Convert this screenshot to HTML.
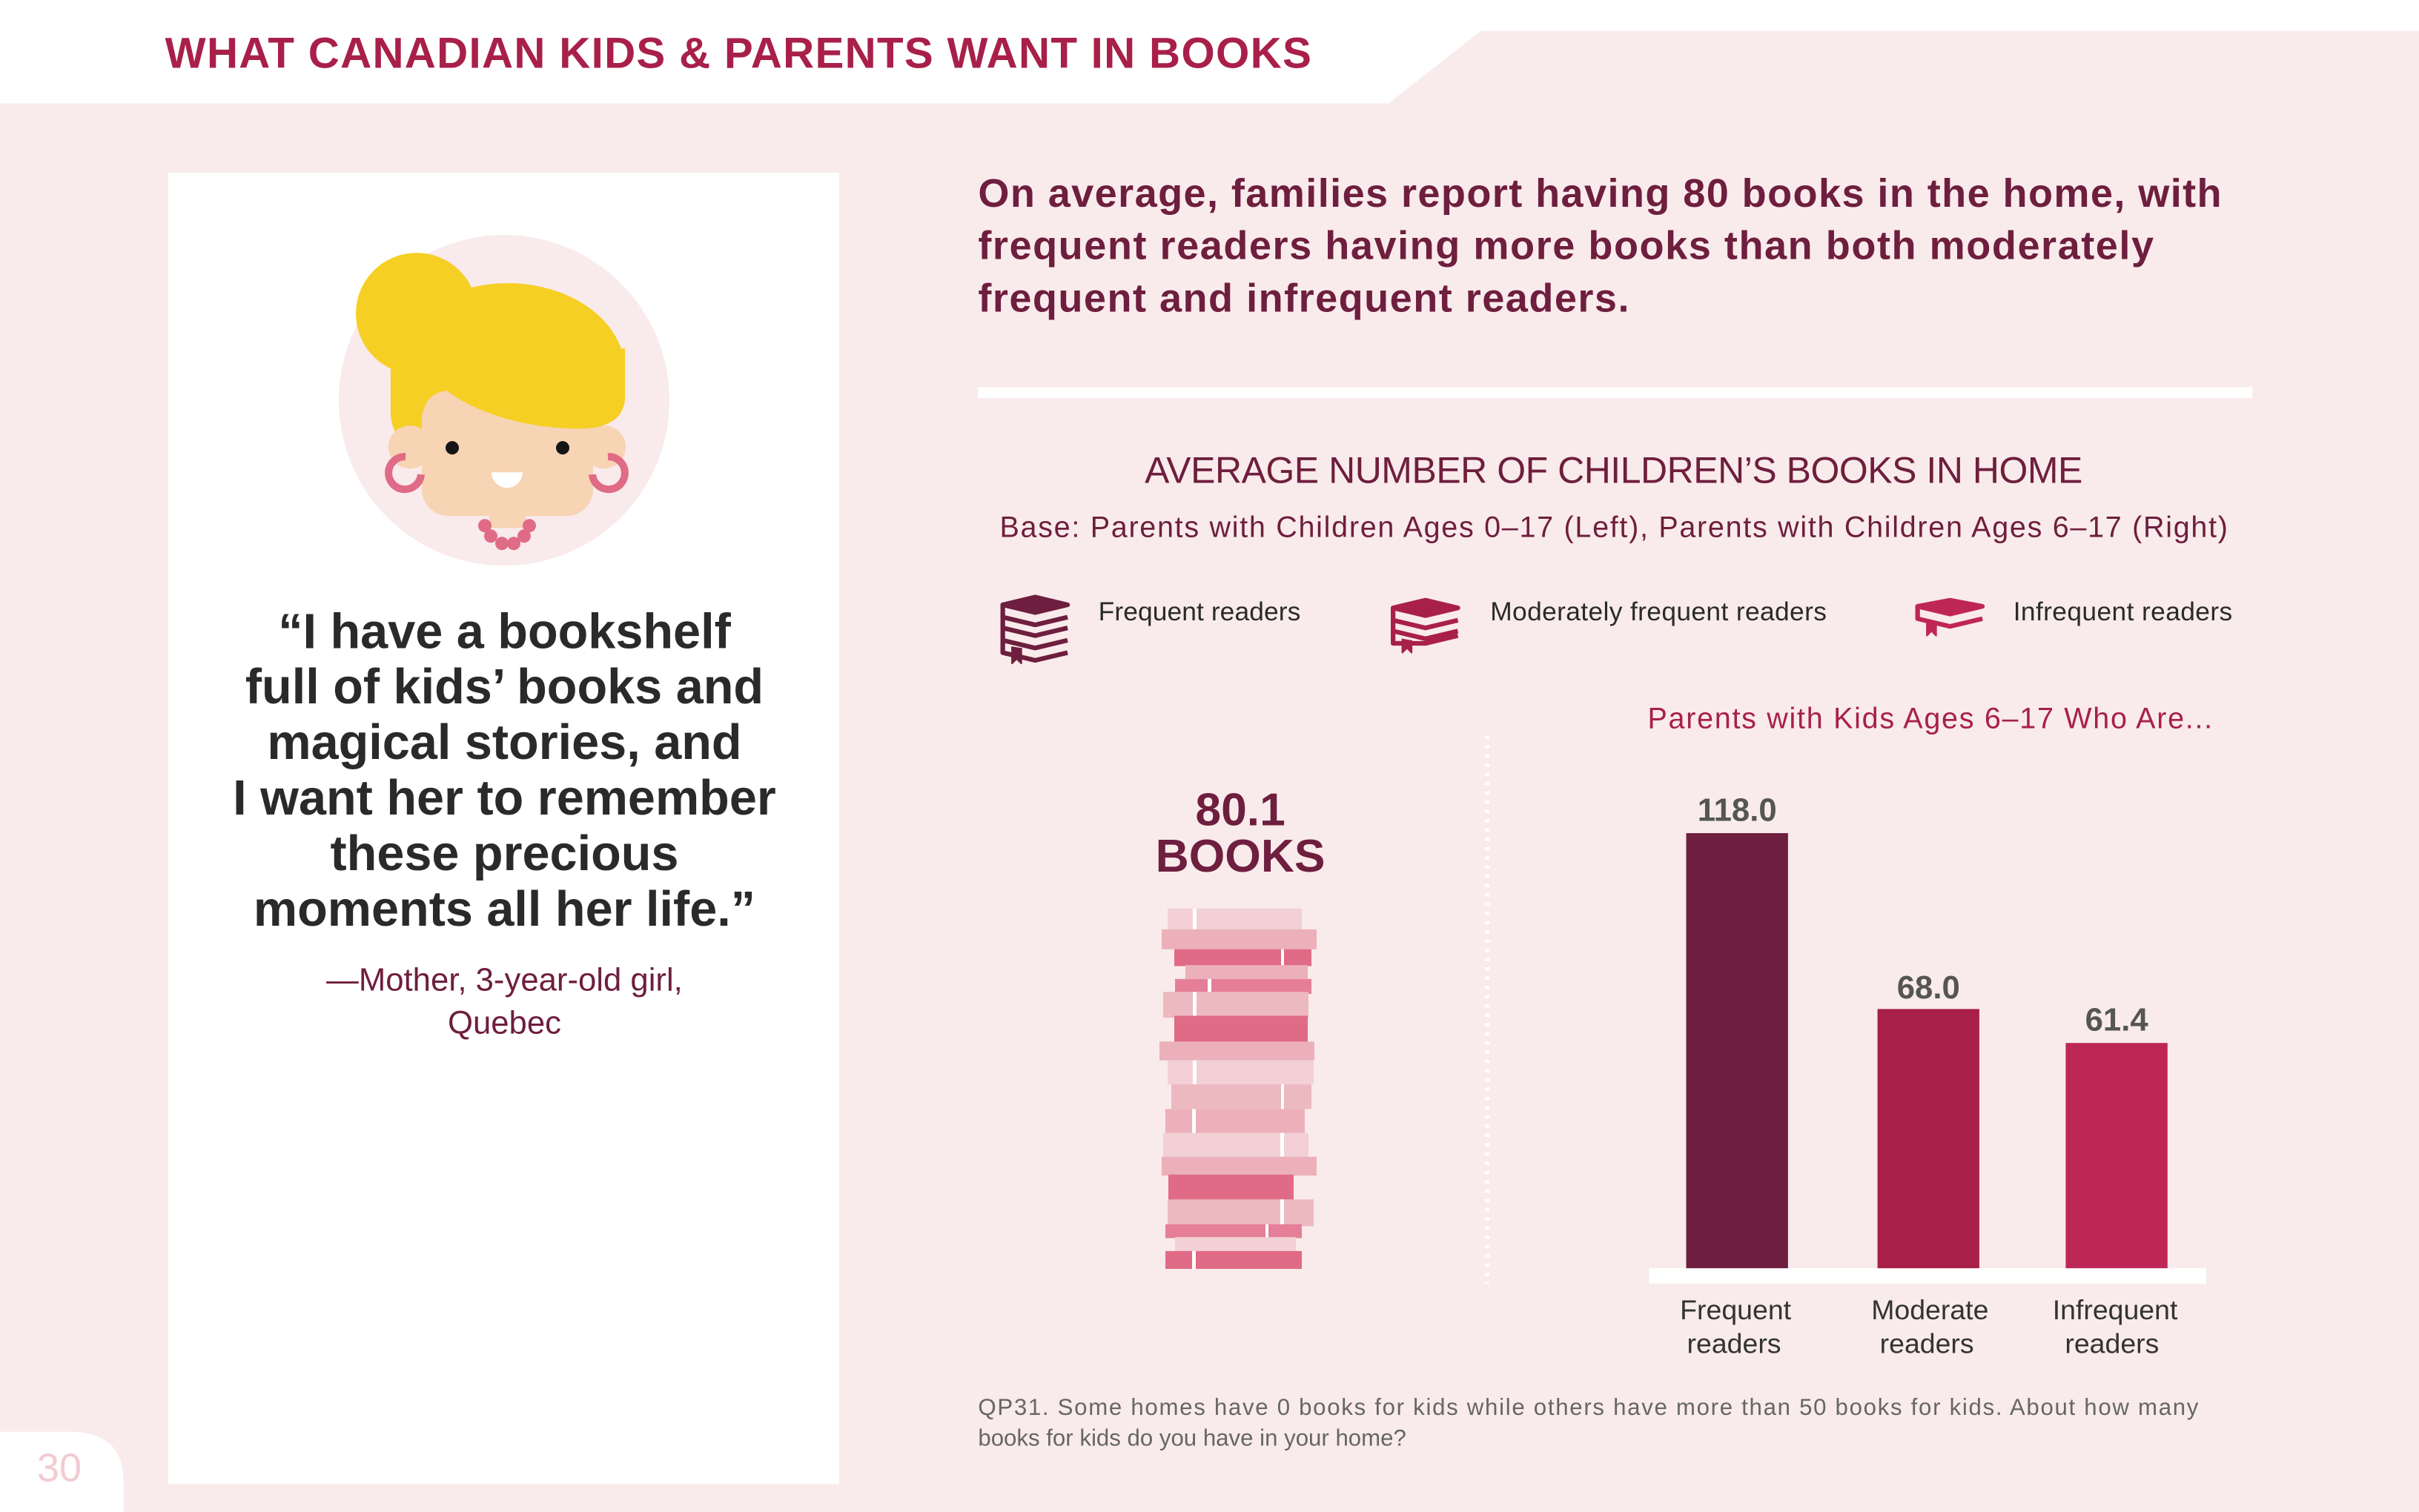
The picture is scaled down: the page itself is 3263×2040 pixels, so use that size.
<!DOCTYPE html>
<html><head><meta charset="utf-8"><style>
html,body{margin:0;padding:0;background:#f9ebeb;}
svg{display:block;}
text{font-family:"Liberation Sans",sans-serif;}
</style></head><body>
<svg width="3263" height="2040" viewBox="0 0 1568 980" preserveAspectRatio="none" xmlns="http://www.w3.org/2000/svg">
<rect width="1568" height="980" fill="#f9ebeb"/>
<polygon points="0,0 1568,0 1568,20 960,20 900,67 0,67" fill="#fff"/>
<text x="107" y="44" font-size="28" font-weight="bold" fill="#a8204a" textLength="743">WHAT CANADIAN KIDS &amp; PARENTS WANT IN BOOKS</text>
<rect x="109" y="112" width="435" height="850" fill="#fff"/>
<path d="M0 928 L45 928 Q80 928 80 960 L80 980 L0 980 Z" fill="#fff"/>
<text x="24" y="960" font-size="26" fill="#f3cbd2">30</text>
<g transform="scale(0.48054)">
<circle cx="680" cy="540" r="223" fill="#f9eaec"/>
<circle cx="562" cy="423" r="82" fill="#f6cf24"/>
<ellipse cx="685" cy="500" rx="158" ry="118" fill="#f6cf24"/>
<path d="M527 500 L527 560 C530 590 545 600 560 600 L620 600 L620 500 Z" fill="#f6cf24"/>
<circle cx="553" cy="603" r="29" fill="#f7d4b4"/>
<circle cx="815" cy="603" r="29" fill="#f7d4b4"/>
<rect x="569" y="527" width="231" height="169" rx="36" fill="#f7d4b4"/>
<rect x="660" y="690" width="49" height="22" fill="#f7d4b4"/>
<path d="M594 520 C640 560 720 580 790 578 C820 576 840 565 843 540 L843 470 L594 470 Z" fill="#f6cf24"/>
<path d="M569 560 C575 540 585 525 594 519 L594 480 L569 480 Z" fill="#f6cf24"/>
<circle cx="610" cy="604" r="9" fill="#151515"/>
<circle cx="759" cy="604" r="9" fill="#151515"/>
<path d="M663 637 L705 637 A21 21 0 0 1 663 637 Z" fill="#fff"/>
<path d="M547 616 A22 22 0 1 0 568 640" fill="none" stroke="#e06b86" stroke-width="10"/>
<path d="M820 616 A22 22 0 1 1 799 640" fill="none" stroke="#e06b86" stroke-width="10"/>
<g fill="#e06b86"><circle cx="654" cy="709" r="9"/><circle cx="662" cy="723" r="9"/><circle cx="677" cy="733" r="9"/><circle cx="693" cy="733" r="9"/><circle cx="707" cy="723" r="9"/><circle cx="714" cy="709" r="9"/></g>
</g>
<g font-size="32" font-weight="bold" fill="#2a2a2a" text-anchor="middle">
<text x="327" y="420">“I have a bookshelf</text>
<text x="327" y="456">full of kids’ books and</text>
<text x="327" y="492">magical stories, and</text>
<text x="327" y="528">I want her to remember</text>
<text x="327" y="564">these precious</text>
<text x="327" y="600">moments all her life.”</text>
</g>
<g font-size="21" fill="#6e1e3e" text-anchor="middle">
<text x="327" y="642">—Mother, 3-year-old girl,</text>
<text x="327" y="670">Quebec</text>
</g>
<g font-size="26" font-weight="bold" fill="#6e1e3e">
<text x="634" y="134" textLength="806">On average, families report having 80 books in the home, with</text>
<text x="634" y="168" textLength="762">frequent readers having more books than both moderately</text>
<text x="634" y="202" textLength="422">frequent and infrequent readers.</text>
</g>
<rect x="634" y="251" width="826" height="7" fill="#fff"/>
<text x="1046" y="313" font-size="24" fill="#6e1e3e" text-anchor="middle" textLength="608">AVERAGE NUMBER OF CHILDREN’S BOOKS IN HOME</text>
<text x="1046" y="348" font-size="19" fill="#6e1e3e" text-anchor="middle" textLength="796">Base: Parents with Children Ages 0–17 (Left), Parents with Children Ages 6–17 (Right)</text>
<g fill="none" stroke-width="3" stroke-linejoin="round">
<g stroke="#6e1e3e">
<path d="M650 392 L671 387 L692 392 L671 397 Z" fill="#6e1e3e"/>
<path d="M650 392 L650 400 L671 405 L692 400 M650 400 L650 407 L671 412 L692 407 M650 407 L650 415 L671 420 L692 415 M650 415 L650 423 L671 428 L692 423"/>
<path d="M656 419 L656 430 L659 427 L662 430 L662 420" fill="#6e1e3e" stroke-width="1"/>
</g>
<g stroke="#a8204a">
<path d="M903 394 L924 389 L945 394 L924 399 Z" fill="#a8204a"/>
<path d="M903 394 L903 402 L924 407 L945 402 M903 402 L903 409 L924 414 L945 409 M903 409 L903 417 L924 417 L945 412"/>
<path d="M909 414 L909 423 L912 420 L915 423 L915 415" fill="#a8204a" stroke-width="1"/>
</g>
<g stroke="#bf2658">
<path d="M1243 393 L1264 389 L1285 393 L1264 398 Z" fill="#bf2658"/>
<path d="M1243 393 L1243 401 L1264 406 L1285 401"/>
<path d="M1249 402 L1249 412 L1252 409 L1255 412 L1255 403" fill="#bf2658" stroke-width="1"/>
</g>
</g>
<g font-size="17" fill="#2a2a2a">
<text x="712" y="402" textLength="131">Frequent readers</text>
<text x="966" y="402" textLength="218">Moderately frequent readers</text>
<text x="1305" y="402" textLength="142">Infrequent readers</text>
</g>
<text x="1251" y="472" font-size="19" fill="#a8204a" text-anchor="middle" textLength="366">Parents with Kids Ages 6–17 Who Are...</text>
<line x1="964" y1="477" x2="964" y2="832" stroke="#fff" stroke-width="3" stroke-dasharray="2,4"/>
<g font-size="30" font-weight="bold" fill="#6e1e3e" text-anchor="middle">
<text x="804" y="535">80.1</text>
<text x="804" y="565">BOOKS</text>
</g>
<g transform="scale(0.48054) translate(0,1050) scale(1,1.339) translate(0,-1050)">
<rect x="1575" y="1181" width="181" height="21" fill="#f2d0d5"/><rect x="1609" y="1181" width="5" height="21" fill="#fff"/>
<rect x="1567" y="1202" width="209" height="20" fill="#ecb0bb"/>
<rect x="1584" y="1222" width="185" height="17" fill="#e06b86"/><rect x="1728" y="1222" width="4" height="17" fill="#fff"/>
<rect x="1599" y="1238" width="165" height="14" fill="#ecb0bb"/>
<rect x="1585" y="1252" width="184" height="15" fill="#e57f98"/><rect x="1629" y="1252" width="5" height="15" fill="#fff"/>
<rect x="1569" y="1265" width="196" height="26" fill="#ecb9c0"/><rect x="1609" y="1265" width="5" height="26" fill="#fff"/>
<rect x="1584" y="1289" width="180" height="28" fill="#e06b86"/>
<rect x="1564" y="1315" width="209" height="19" fill="#ecb0bb"/>
<rect x="1575" y="1334" width="197" height="24" fill="#f2d0d5"/><rect x="1609" y="1334" width="5" height="24" fill="#fff"/>
<rect x="1580" y="1358" width="189" height="25" fill="#ecb9c0"/><rect x="1728" y="1358" width="4" height="25" fill="#fff"/>
<rect x="1572" y="1383" width="188" height="24" fill="#ecb0bb"/><rect x="1608" y="1383" width="5" height="24" fill="#fff"/>
<rect x="1569" y="1407" width="196" height="24" fill="#f2d0d5"/><rect x="1727" y="1407" width="5" height="24" fill="#fff"/>
<rect x="1567" y="1431" width="209" height="19" fill="#ecb0bb"/>
<rect x="1576" y="1449" width="169" height="28" fill="#e06b86"/>
<rect x="1575" y="1474" width="197" height="27" fill="#ecb9c0"/><rect x="1727" y="1474" width="5" height="27" fill="#fff"/>
<rect x="1572" y="1499" width="184" height="14" fill="#e57f98"/><rect x="1707" y="1499" width="4" height="14" fill="#fff"/>
<rect x="1585" y="1512" width="163" height="14" fill="#f2d0d5"/>
<rect x="1572" y="1526" width="184" height="18" fill="#e06b86"/><rect x="1608" y="1526" width="5" height="18" fill="#fff"/>
</g>
<rect x="1093" y="540" width="66" height="283" fill="#6e1e3e"/>
<rect x="1217" y="654" width="66" height="169" fill="#a8204a"/>
<rect x="1339" y="676" width="66" height="147" fill="#bf2658"/>
<rect x="1069" y="822" width="361" height="10" fill="#fff"/>
<g font-size="21" font-weight="bold" fill="#555" text-anchor="middle">
<text x="1126" y="532">118.0</text>
<text x="1250" y="647">68.0</text>
<text x="1372" y="668">61.4</text>
</g>
<g font-size="18" fill="#333" text-anchor="middle">
<text x="1125" y="855">Frequent</text><text x="1124" y="877">readers</text>
<text x="1251" y="855">Moderate</text><text x="1249" y="877">readers</text>
<text x="1371" y="855">Infrequent</text><text x="1369" y="877">readers</text>
</g>
<g font-size="15" fill="#666">
<text x="634" y="917" textLength="791">QP31. Some homes have 0 books for kids while others have more than 50 books for kids. About how many</text>
<text x="634" y="937">books for kids do you have in your home?</text>
</g>
</svg>
</body></html>
